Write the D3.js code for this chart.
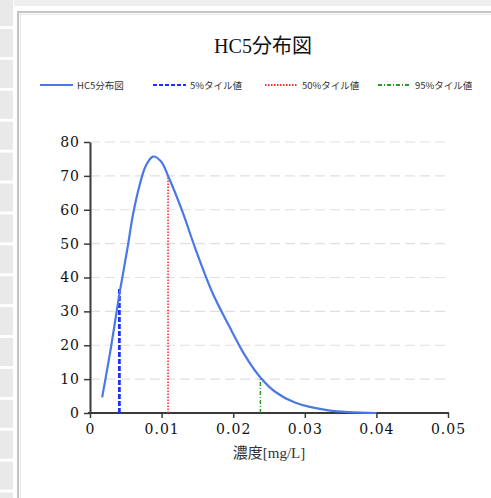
<!DOCTYPE html>
<html>
<head>
  <meta charset="utf-8">
  <title>HC5分布図</title>
  <script src="https://cdn.jsdelivr.net/npm/d3@7"></script>
  <style>
    body { margin: 0; background: #fff; }
    svg { display: block; }
  </style>
</head>
<body>
  <svg width="491" height="498" id="mainsvg"></svg>
  <script>
    // curve
    const conc = [0.0017, 0.0029, 0.0041, 0.0046, 0.0053, 0.0060, 0.0069, 0.0078, 0.0088, 0.0099, 0.0110,
      0.0129, 0.0148, 0.0171, 0.0194, 0.0217, 0.0238, 0.0259, 0.0287, 0.0333, 0.0400];
    const density = [4.6, 19, 35, 41, 49.5, 58.5, 67, 73, 75.7, 74.3, 69.5,
      59.5, 48, 35.5, 25.8, 16.8, 10.5, 6.2, 3.0, 0.8, 0];
    const pctNames = ['5%タイル値', '50%タイル値', '95%タイル値'];
    const pctX = [0.0041, 0.0109, 0.0238];
    const pctY = [37, 70, 10];
    const xTicks = [0, 0.01, 0.02, 0.03, 0.04, 0.05];
    const yTicks = [0, 10, 20, 30, 40, 50, 60, 70, 80];

    const svg = d3.select('#mainsvg');
    const width = +svg.attr('width');
    const height = +svg.attr('height');

    // page background: striped left strip, grey top band, panel border
    svg.append('rect').attr('x', 14).attr('y', 0).attr('width', width).attr('height', 6).attr('fill', '#efefef');
    for (let i = -1; i < 17; i++) {
      svg.append('rect').attr('x', 0).attr('y', i * 30.9 + 29).attr('width', 13).attr('height', 28)
        .attr('fill', '#e9e9e9');
    }
    svg.append('rect').attr('x', 18).attr('y', 12).attr('width', width).attr('height', height)
      .attr('fill', '#fff').attr('stroke', '#c4c4c4').attr('stroke-width', 2);
    svg.append('line').attr('x1', 20.5).attr('x2', 20.5).attr('y1', 13).attr('y2', height)
      .attr('stroke', '#e6e6e6');
    svg.append('line').attr('x1', 19).attr('x2', width).attr('y1', 14.5).attr('y2', 14.5)
      .attr('stroke', '#e6e6e6');

    const margin = { left: 90, right: 43, top: 142, bottom: 85 };
    const x = d3.scaleLinear().domain([0, 0.05]).range([margin.left, width - margin.right]);
    const y = d3.scaleLinear().domain([0, 80]).range([height - margin.bottom, margin.top]);

    const tickFont = 'DejaVu Serif, Liberation Serif, serif';

    // grid
    svg.append('g').selectAll('line').data(yTicks.filter(d => d > 0)).join('line')
      .attr('x1', x(0)).attr('x2', x(0.05))
      .attr('y1', d => y(d)).attr('y2', d => y(d))
      .attr('stroke', '#e0e0e0').attr('stroke-width', 1.2).attr('stroke-dasharray', '10,5');

    // axes
    const xAxis = d3.axisBottom(x).tickValues(xTicks).tickFormat(d => d === 0 ? '0' : d3.format('.2f')(d))
      .tickSize(5).tickSizeOuter(0).tickPadding(6);
    const gx = svg.append('g').attr('transform', `translate(0,${y(0)})`).call(xAxis);
    const yAxis = d3.axisLeft(y).tickValues(yTicks).tickSize(6).tickSizeOuter(0).tickPadding(4);
    const gy = svg.append('g').attr('transform', `translate(${x(0)},0)`).call(yAxis);
    [gx, gy].forEach(g => {
      g.select('.domain').attr('stroke', '#3a3a3a').attr('stroke-width', 2);
      g.selectAll('.tick line').attr('stroke', '#3a3a3a').attr('stroke-width', 1.5);
      g.selectAll('.tick text').attr('fill', '#111').attr('font-family', tickFont)
        .attr('font-size', 14).attr('letter-spacing', 1);
    });
    gx.select('.domain').attr('d', `M${x(0) - 2},0H${x(0.05) + 1}`);

    // percentile lines
    const pctColors = ['#1f2fff', '#ff3030', '#2a9a2a'];
    const pctDash = ['5,2', '1.5,1.5', '4,2,1,2'];
    const pctWidth = [2.8, 1.6, 1.5];
    svg.append('g').selectAll('line').data(pctX).join('line')
      .attr('x1', d => x(d)).attr('x2', d => x(d))
      .attr('y1', y(0)).attr('y2', (d, i) => y(pctY[i]))
      .attr('stroke', (d, i) => pctColors[i])
      .attr('stroke-width', (d, i) => pctWidth[i])
      .attr('stroke-dasharray', (d, i) => pctDash[i]);

    // distribution curve
    const pts = conc.map((c, i) => [c, density[i]]);
    const line = d3.line().x(d => x(d[0])).y(d => y(d[1])).curve(d3.curveCatmullRom.alpha(0.5));
    svg.append('path').datum(pts).attr('d', line)
      .attr('fill', 'none').attr('stroke', '#4a78e6').attr('stroke-width', 2.2);

    // title
    svg.append('text').attr('x', 263).attr('y', 53).attr('text-anchor', 'middle')
      .attr('font-family', 'Liberation Serif, "Noto Sans CJK JP", serif').attr('font-size', 20)
      .attr('fill', '#111').text('HC5分布図');

    // x label
    svg.append('text').attr('x', 269).attr('y', 458).attr('text-anchor', 'middle')
      .attr('font-family', 'Liberation Serif, "Noto Sans CJK JP", serif').attr('font-size', 15)
      .attr('fill', '#333').text('濃度[mg/L]');

    // legend
    const legendNames = ['HC5分布図'].concat(pctNames);
    const legendX = [40, 153, 265, 378];
    const legendColors = ['#4a78e6'].concat(pctColors);
    const legendDash = [null].concat(['4,2', '1.5,1.5', '4,2,1,2']);
    const lg = svg.append('g').selectAll('g').data(legendNames).join('g')
      .attr('transform', (d, i) => `translate(${legendX[i]},85)`);
    lg.append('line').attr('x1', 0).attr('x2', 33).attr('y1', 0).attr('y2', 0)
      .attr('stroke', (d, i) => legendColors[i])
      .attr('stroke-width', (d, i) => i === 1 ? 2.2 : 1.8)
      .attr('stroke-dasharray', (d, i) => legendDash[i]);
    lg.append('text').attr('x', 37).attr('y', 3.5)
      .attr('font-family', '"Noto Sans CJK JP", sans-serif').attr('font-size', 9.5)
      .attr('fill', '#333').text(d => d);
  </script>
</body>
</html>
